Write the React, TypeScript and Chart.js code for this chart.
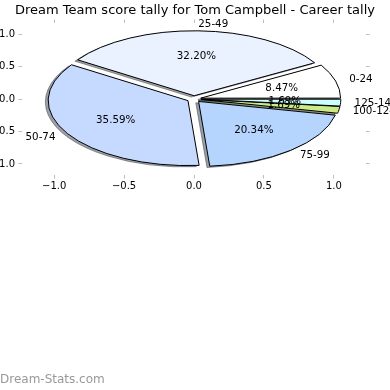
import React, { useEffect, useRef } from "react";
import { Chart, registerables } from "chart.js";

Chart.register(...registerables);

// ---- data ----
const categories = ["0-24", "25-49", "50-74", "75-99", "100-124", "125-149"];
const counts = [5, 19, 21, 12, 1, 1];
const sliceColors = ["#ffffff", "#eaf2ff", "#c6d9ff", "#b5d5ff", "#cceb88", "#ccffff"];
const xTicks = [-1, -0.5, 0, 0.5, 1];
const yTicks = [-1, -0.5, 0, 0.5, 1];
const titleText = "Dream Team score tally for Tom Campbell - Career tally";
const watermarkText = "Dream-Stats.com";

// ---- style constants ----
const FONT = "'DejaVu Sans', 'Liberation Sans', sans-serif";
const EXPLODE = 0.05;
const SHADOW = 0.02;
const LABEL_DIST = 1.1;
const PCT_DIST = 0.6;
const TICK_GREY = "#bdbdbd";

const total = counts.reduce((a, b) => a + b, 0);

function hexToRgb(h: string): [number, number, number] {
  const s = h.replace("#", "");
  return [parseInt(s.slice(0, 2), 16), parseInt(s.slice(2, 4), 16), parseInt(s.slice(4, 6), 16)];
}

function fmtTick(v: any) {
  const n = Number(v);
  const s = Math.abs(n).toFixed(1);
  return n < 0 ? "\u2212" + s : s;
}

const ellipsePie = {
  id: "ellipsePie",
  beforeDatasetsDraw(chart: any) {
    const meta = chart.getDatasetMeta(0);
    const arcs = meta.data;
    if (!arcs || !arcs.length) return;
    const xs = chart.scales.x;
    const ys = chart.scales.y;
    const ctx: CanvasRenderingContext2D = chart.ctx;
    const a0 = arcs[0];
    const R = a0.outerRadius;
    const ux = xs.getPixelForValue(1) - xs.getPixelForValue(0);
    const uy = ys.getPixelForValue(0) - ys.getPixelForValue(1);
    const base = ctx.getTransform();
    const origStroke = ctx.stroke;
    (ctx as any).stroke = function (...args: any[]) {
      this.save();
      this.setTransform(base);
      origStroke.apply(this, args);
      this.restore();
    };
    ctx.save();
    ctx.translate(xs.getPixelForValue(0), ys.getPixelForValue(0));
    ctx.scale(ux / R, -uy / R);
    ctx.translate(-a0.x, -a0.y);
    // shadows
    arcs.forEach((arc: any, i: number) => {
      const mid = (arc.startAngle + arc.endAngle) / 2;
      const cx = arc.x + Math.cos(mid) * EXPLODE * R - SHADOW * R;
      const cy = arc.y + Math.sin(mid) * EXPLODE * R - SHADOW * R;
      const [r, g, b] = hexToRgb(sliceColors[i]);
      const col = `rgba(${Math.round(r * 0.3)},${Math.round(g * 0.3)},${Math.round(b * 0.3)},0.5)`;
      ctx.beginPath();
      ctx.moveTo(cx, cy);
      ctx.arc(cx, cy, arc.outerRadius, arc.startAngle, arc.endAngle);
      ctx.closePath();
      ctx.fillStyle = col;
      ctx.fill();
      ctx.strokeStyle = col;
      ctx.lineWidth = 1;
      ctx.stroke();
    });
    // wedges
    arcs.forEach((arc: any) => {
      const mid = (arc.startAngle + arc.endAngle) / 2;
      ctx.save();
      ctx.translate(Math.cos(mid) * EXPLODE * R, Math.sin(mid) * EXPLODE * R);
      arc.draw(ctx);
      ctx.restore();
    });
    ctx.restore();
    delete (ctx as any).stroke;
    return false;
  },
  afterDraw(chart: any) {
    const meta = chart.getDatasetMeta(0);
    const arcs = meta.data;
    const xs = chart.scales.x;
    const ys = chart.scales.y;
    const ctx: CanvasRenderingContext2D = chart.ctx;
    ctx.save();
    ctx.fillStyle = "#000";
    ctx.font = `10.3px ${FONT}`;
    ctx.textBaseline = "middle";
    arcs.forEach((arc: any, i: number) => {
      const th = (arc.startAngle + arc.endAngle) / 2;
      const lx = Math.cos(th) * (EXPLODE + LABEL_DIST);
      const ly = Math.sin(th) * (EXPLODE + LABEL_DIST);
      ctx.textAlign = lx > 0 ? "left" : "right";
      ctx.fillText(categories[i], xs.getPixelForValue(lx), ys.getPixelForValue(ly));
      const px = Math.cos(th) * (EXPLODE + PCT_DIST);
      const py = Math.sin(th) * (EXPLODE + PCT_DIST);
      ctx.textAlign = "center";
      const pct = ((counts[i] / total) * 100).toFixed(2) + "%";
      ctx.fillText(pct, xs.getPixelForValue(px), ys.getPixelForValue(py));
    });
    ctx.fillStyle = "#999999";
    ctx.font = `12px ${FONT}`;
    ctx.textAlign = "left";
    ctx.fillText(watermarkText, 0, 380);
    ctx.restore();
  },
};

const tickFont = { family: FONT, size: 10 };
const gridOpts = {
  display: true,
  drawOnChartArea: false,
  drawTicks: true,
  tickLength: 3.5,
  color: TICK_GREY,
  lineWidth: 1,
};

export default function App() {
  const ref = useRef<HTMLCanvasElement | null>(null);
  useEffect(() => {
    if (!ref.current) return;
    Chart.defaults.font.family = FONT;
    const chart = new Chart(ref.current, {
      type: "pie",
      data: {
        labels: categories,
        datasets: [
          {
            data: counts,
            backgroundColor: sliceColors,
            borderColor: "#000000",
            borderWidth: 1,
            borderJoinStyle: "miter",
            offset: 0,
            hoverOffset: 0,
          } as any,
        ],
      },
      options: {
        animation: false,
        responsive: false,
        events: [],
        rotation: 90,
        layout: { padding: 0 },
        plugins: {
          legend: { display: false },
          tooltip: { enabled: false },
          title: {
            display: true,
            text: titleText,
            color: "#000",
            font: { family: FONT, size: 13, weight: "normal", lineHeight: 1.2 },
            padding: { top: 2.5, bottom: 0 },
          },
        },
        scales: {
          x: {
            type: "linear",
            axis: "x",
            position: "bottom",
            min: -1.23,
            max: 1.23,
            afterBuildTicks: (s: any) => {
              s.ticks = xTicks.map((v) => ({ value: v }));
            },
            afterFit: (s: any) => {
              s.height = 390 - 175;
            },
            grid: gridOpts,
            border: { display: false },
            ticks: { font: tickFont, color: "#000", padding: 2, callback: fmtTick, maxRotation: 0, autoSkip: false },
          },
          x2: {
            type: "linear",
            axis: "x",
            position: "top",
            min: -1.23,
            max: 1.23,
            afterBuildTicks: (s: any) => {
              s.ticks = xTicks.map((v) => ({ value: v }));
            },
            afterFit: (s: any) => {
              s.height = 23 - (2.5 + 13 * 1.2);
            },
            grid: gridOpts,
            border: { display: false },
            ticks: { display: false },
          },
          y: {
            type: "linear",
            axis: "y",
            position: "left",
            min: -1.17,
            max: 1.17,
            afterBuildTicks: (s: any) => {
              s.ticks = yTicks.map((v) => ({ value: v }));
            },
            afterFit: (s: any) => {
              s.width = 22;
            },
            grid: gridOpts,
            border: { display: false },
            ticks: { font: tickFont, color: "#000", padding: 3.5, callback: fmtTick, autoSkip: false },
          },
          y2: {
            type: "linear",
            axis: "y",
            position: "right",
            min: -1.17,
            max: 1.17,
            afterBuildTicks: (s: any) => {
              s.ticks = yTicks.map((v) => ({ value: v }));
            },
            afterFit: (s: any) => {
              s.width = 24;
            },
            grid: gridOpts,
            border: { display: false },
            ticks: { display: false },
          },
        },
      } as any,
      plugins: [ellipsePie as any],
    });
    return () => chart.destroy();
  }, []);
  return (
    <div style={{ position: "absolute", left: 0, top: 0, width: 390, height: 390, background: "#fff" }}>
      <canvas ref={ref} width={390} height={390} style={{ display: "block", width: 390, height: 390 }} />
    </div>
  );
}
